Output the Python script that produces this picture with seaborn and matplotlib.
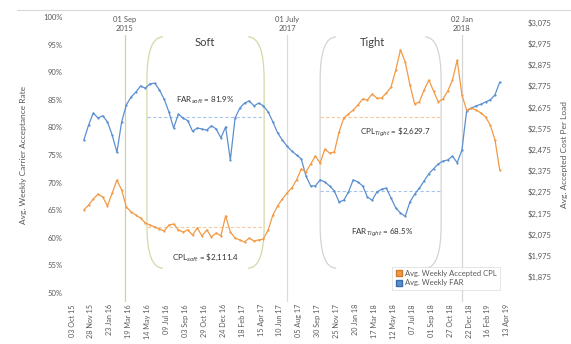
import matplotlib
matplotlib.use("Agg")
import matplotlib.pyplot as plt
from matplotlib.lines import Line2D
from matplotlib.path import Path
from matplotlib.patches import PathPatch
from matplotlib.ticker import FuncFormatter
import pandas as pd
import seaborn as sns

# ---- data: bi-weekly observations, x is the week index ----
weeks = list(range(5, 182, 2))

far = [77.7, 80.4, 82.6, 81.7, 82.1, 81.0, 78.6, 75.5, 81.0, 84.1,
       85.5, 86.4, 87.5, 87.1, 87.9, 88.0, 86.8, 85.1, 82.8, 79.9,
       82.4, 81.7, 81.2, 79.3, 79.9, 79.7, 79.5, 80.3, 79.7, 78.1,
       80.1, 74.1, 81.7, 83.5, 84.4, 84.8, 83.9, 84.4, 83.9, 82.8,
       81.0, 79.0, 77.7, 76.6, 75.7, 75.0, 74.3, 71.2, 69.4, 69.4,
       70.5, 70.1, 69.4, 68.5, 66.5, 66.8, 68.3, 70.5, 70.1, 69.4,
       67.4, 66.8, 68.3, 68.8, 69.0, 67.2, 65.4, 64.5, 63.9, 66.5,
       67.9, 69.0, 70.3, 71.6, 72.5, 73.4, 73.9, 74.1, 74.8, 73.6,
       75.9, 83.0, 83.5, 83.9, 84.2, 84.6, 85.0, 85.9, 88.2]

cpl = [2191, 2214, 2243, 2266, 2252, 2210, 2271, 2332, 2285, 2205,
       2182, 2167, 2153, 2130, 2120, 2111, 2101, 2092, 2120, 2125,
       2097, 2087, 2097, 2073, 2106, 2069, 2097, 2064, 2083, 2069,
       2163, 2087, 2059, 2050, 2040, 2059, 2045, 2050, 2054, 2097,
       2167, 2210, 2243, 2271, 2295, 2332, 2384, 2370, 2408, 2445,
       2412, 2478, 2459, 2464, 2558, 2624, 2643, 2662, 2686, 2714,
       2709, 2737, 2718, 2718, 2742, 2770, 2850, 2945, 2888, 2780,
       2690, 2700, 2756, 2803, 2751, 2700, 2714, 2751, 2803, 2897,
       2733, 2662, 2671, 2662, 2648, 2629, 2591, 2521, 2379]

tick_weeks = list(range(0, 185, 8))
tick_labels = ["03 Oct 15", "28 Nov 15", "23 Jan 16", "19 Mar 16",
               "14 May 16", "09 Jul 16", "03 Sep 16", "29 Oct 16",
               "24 Dec 16", "18 Feb 17", "15 Apr 17", "10 Jun 17",
               "05 Aug 17", "30 Sep 17", "25 Nov 17", "20 Jan 18",
               "17 Mar 18", "12 May 18", "07 Jul 18", "01 Sep 18",
               "27 Oct 18", "22 Dec 18", "16 Feb 19", "13 Apr 19"]

# market phase markers
marker_weeks = [22.4, 91.0, 165.0]
marker_labels = ["01 Sep\n2015", "01 July\n2017", "02 Jan\n2018"]

# phase averages
far_soft, far_tight = 81.9, 68.5
cpl_soft, cpl_tight = 2111.4, 2629.7
soft_span = (31.7, 81.3)
tight_span = (105.0, 156.2)

BLUE = "#5b8fd0"
ORANGE = "#f29a45"
TXT = "#595959"

sns.set_theme(style="white")
plt.rcParams["font.family"] = ["Lato", "DejaVu Sans"]

df = pd.DataFrame({"week": weeks, "far": far, "cpl": cpl})

fig = plt.figure(figsize=(5.71, 3.44), dpi=100)
ax = fig.add_axes([0.1191, 0.1483, 0.7776, 0.8023])
ax2 = ax.twinx()

sns.lineplot(data=df, x="week", y="far", ax=ax, color=BLUE, lw=0.9,
             marker="o", markersize=1.6, markeredgewidth=0, zorder=4)
sns.lineplot(data=df, x="week", y="cpl", ax=ax2, color=ORANGE, lw=0.9,
             marker="o", markersize=1.6, markeredgewidth=0, zorder=4)

ax.set_xlim(-1.7, 186.2)
ax.set_ylim(50, 100)
ax2.set_ylim(1800, 3100)

ax.set_xticks(tick_weeks)
ax.set_xticklabels(tick_labels, rotation=90)
ax.set_yticks(range(50, 101, 5))
ax2.set_yticks(range(1875, 3076, 100))
ax.yaxis.set_major_formatter(FuncFormatter(lambda v, p: f"{v:.0f}%"))
ax2.yaxis.set_major_formatter(FuncFormatter(lambda v, p: f"${v:,.0f}"))

ax.tick_params(axis="both", length=0, labelsize=5.5, colors=TXT)
ax.tick_params(axis="x", pad=8, labelsize=5.2)
ax.tick_params(axis="y", pad=4)
ax2.tick_params(axis="y", length=0, labelsize=5.5, colors=TXT, pad=11)

ax.set_xlabel("")
ax.set_ylabel("Avg. Weekly Carrier Acceptance Rate", fontsize=6, color=TXT)
ax2.set_ylabel("Avg. Accepted Cost Per Load", fontsize=6, color=TXT,
               rotation=90)
ax.yaxis.set_label_coords(-0.092, 0.5)
ax2.yaxis.set_label_coords(1.11, 0.5)

for a in (ax, ax2):
    for s in a.spines.values():
        s.set_visible(False)
    a.grid(False)

# phase boundary lines with their dates
vcols = ["#cdd49a", "#dcdcdc", "#d6d6d6"]
for w, lab, c in zip(marker_weeks, marker_labels, vcols):
    ax.axvline(w, ymin=-0.03, ymax=0.935, color=c, lw=0.9, clip_on=False,
               zorder=1)
    ax.text(w, 0.975, lab, transform=ax.get_xaxis_transform(), ha="center",
            va="center", fontsize=5.5, color=TXT, linespacing=1.3)


def bracket(x0, dx, ytop, ybot, ry):
    verts = [(x0 + dx, ytop), (x0, ytop), (x0, ytop - ry),
             (x0, ybot + ry), (x0, ybot), (x0 + dx, ybot)]
    codes = [Path.MOVETO, Path.CURVE3, Path.CURVE3,
             Path.LINETO, Path.CURVE3, Path.CURVE3]
    return Path(verts, codes)


for (x0, x1), col in ((soft_span, "#d3d9a6"), (tight_span, "#d4d4d4")):
    ax.add_patch(PathPatch(bracket(x0, 6.8, 96.4, 54.5, 7.8), fill=False,
                           ec=col, lw=0.9, zorder=2))
    ax.add_patch(PathPatch(bracket(x1, -6.8, 96.4, 54.5, 7.8), fill=False,
                           ec=col, lw=0.9, zorder=2))

ax.text(56.3, 95.3, "Soft", ha="center", va="center", fontsize=8, color="#404040")
ax.text(127.0, 95.3, "Tight", ha="center", va="center", fontsize=8, color="#404040")

# phase averages
ax.hlines(far_soft, *soft_span, colors="#a9c6ea", lw=0.8, linestyles=(0, (3, 2)), zorder=2)
ax.hlines(far_tight, *tight_span, colors="#a9c6ea", lw=0.8, linestyles=(0, (3, 2)), zorder=2)
ax2.hlines(cpl_soft, *soft_span, colors="#f7c9a0", lw=0.8, linestyles=(0, (3, 2)), zorder=2)
ax2.hlines(cpl_tight, *tight_span, colors="#f7c9a0", lw=0.8, linestyles=(0, (3, 2)), zorder=2)

ax.text(56.5, 85.0, r"FAR$_{soft}$ = " + f"{far_soft:.1f}%", ha="center", va="center",
        fontsize=5.8, color="#333333", zorder=5)
ax.text(56.7, 56.6, r"CPL$_{soft}$ = \$" + f"{cpl_soft:,.1f}", ha="center", va="center",
        fontsize=5.8, color="#333333", zorder=5)
ax.text(136.7, 79.0, r"CPL$_{Tight}$ = \$" + f"{cpl_tight:,.1f}", ha="center", va="center",
        fontsize=5.8, color="#333333", zorder=5)
ax.text(131.2, 60.9, r"FAR$_{Tight}$ = " + f"{far_tight:.1f}%", ha="center", va="center",
        fontsize=5.8, color="#333333", zorder=5)

handles = [
    Line2D([], [], ls="none", marker="s", markersize=4, markerfacecolor=ORANGE,
           markeredgecolor="#d07a2a", label="Avg. Weekly Accepted CPL"),
    Line2D([], [], ls="none", marker="s", markersize=4, markerfacecolor=BLUE,
           markeredgecolor="#3a6aa8", label="Avg. Weekly FAR"),
]
leg = ax2.legend(handles=handles, loc="upper left", bbox_to_anchor=(0.73, 0.095),
                 fontsize=5.5, frameon=True, fancybox=False, edgecolor="#d9d9d9",
                 borderpad=0.4, handletextpad=0.3, labelspacing=0.35,
                 handlelength=1.0, borderaxespad=0)
for t in leg.get_texts():
    t.set_color(TXT)
leg.get_frame().set_linewidth(0.6)

fig.add_artist(Line2D([17 / 571, 1.0], [1 - 10 / 344, 1 - 10 / 344],
                      transform=fig.transFigure, color="#d9d9d9", lw=0.8))

fig.savefig("out.png", dpi=100)
